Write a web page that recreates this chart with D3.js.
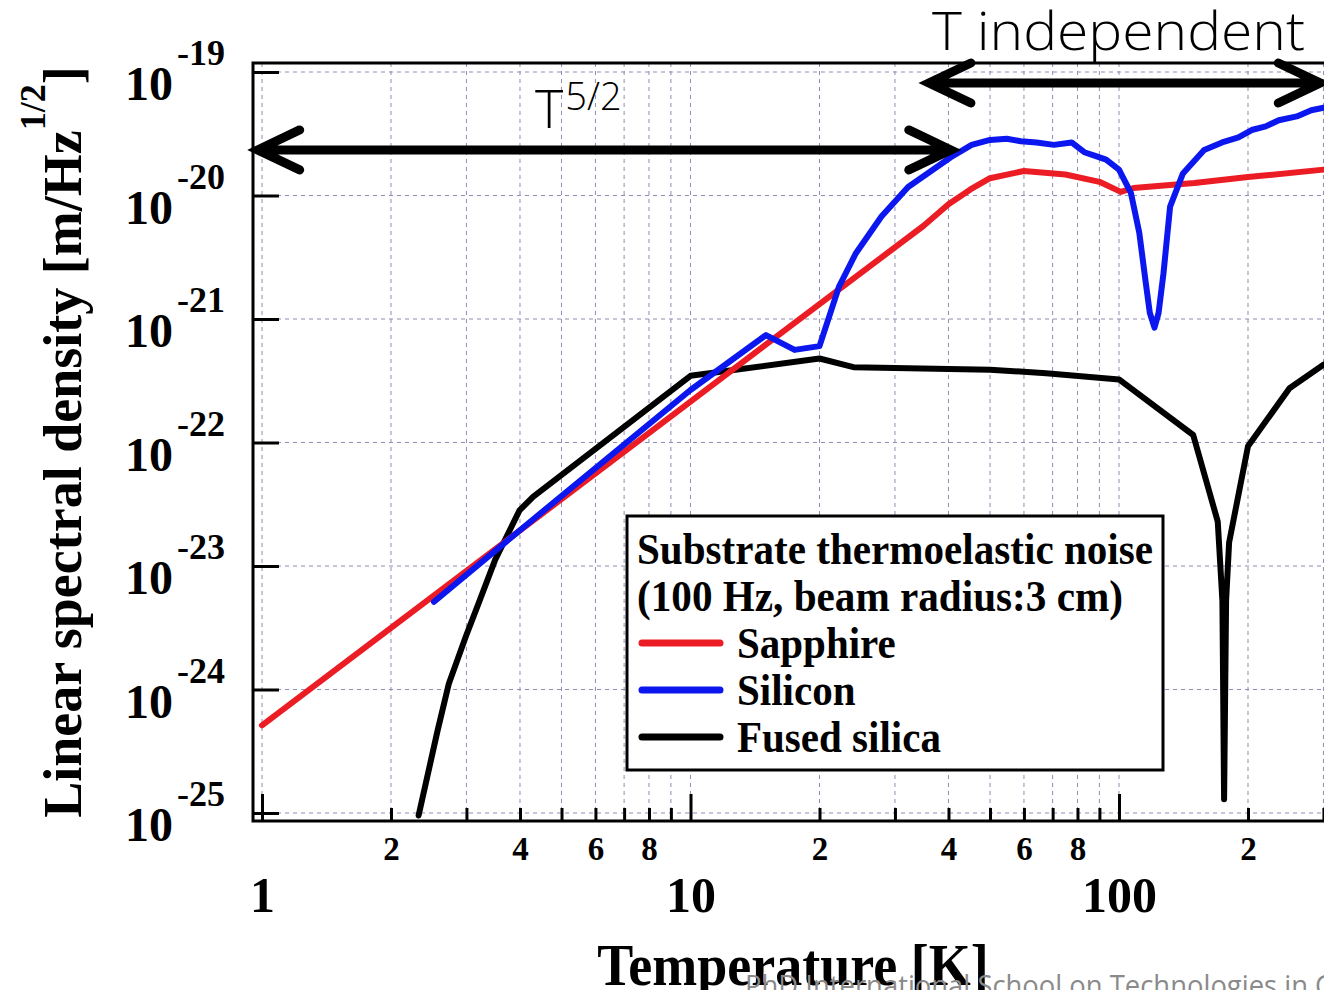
<!DOCTYPE html>
<html>
<head>
<meta charset="utf-8">
<script src="https://cdn.jsdelivr.net/npm/d3@7"></script>
<style>
  body { margin: 0; background: #fff; }
  svg { display: block; }
  .serif { font-family: "Liberation Serif", "Times New Roman", serif; font-weight: bold; }
  .sans { font-family: "Open Sans", "Noto Sans", sans-serif; }
</style>
</head>
<body>
<div id="container"></div>
<script>
/* CONSTANTS AND GLOBALS */
const width = 1324,
  height = 990;

// series (T in K, amplitude in m/Hz^1/2)
const sapphireT = [1, 10, 20, 35, 40, 45, 50, 60, 75, 90, 101, 108, 150, 200, 300];
const sapphireV = [5.13e-25, 2.14e-22, 1.32e-21, 5.69e-21, 8.5e-21, 1.12e-20, 1.38e-20, 1.58e-20,
  1.48e-20, 1.29e-20, 1.07e-20, 1.15e-20, 1.26e-20, 1.41e-20, 1.62e-20];

const siliconT = [2.52, 4, 10, 15, 17.5, 20, 22.2, 24.3, 27.9, 32.2, 40.5, 45.3, 50, 54.7, 59, 64.2,
  70.5, 77.5, 83, 88, 93.3, 100, 106.6, 111.5, 115.5, 118, 121, 123.7, 127, 131.6, 141, 158,
  174, 190, 204, 220, 236, 260, 281, 300];
const siliconV = [5.13e-24, 1.95e-23, 2.66e-22, 7.41e-22, 5.62e-22, 6.03e-22, 1.82e-21, 3.39e-21,
  6.76e-21, 1.17e-20, 2.04e-20, 2.57e-20, 2.82e-20, 2.88e-20, 2.75e-20, 2.69e-20,
  2.57e-20, 2.69e-20, 2.24e-20, 2.09e-20, 1.95e-20, 1.62e-20, 1.05e-20, 5.01e-21,
  1.95e-21, 1.12e-21, 8.51e-22, 1.12e-21, 2.34e-21, 8.13e-21, 1.51e-20, 2.34e-20,
  2.69e-20, 2.95e-20, 3.39e-20, 3.63e-20, 4.07e-20, 4.37e-20, 4.9e-20, 5.13e-20];

const silicaT = [2.32, 2.57, 2.73, 2.99, 3.22, 3.5, 3.99, 4.29, 10, 20, 24, 50, 67.6, 100,
  149, 170, 174.3, 175.9, 177.8, 180.7, 200, 250, 300];
const silicaV = [9.55e-26, 4.68e-25, 1.12e-24, 2.69e-24, 5.25e-24, 1.12e-23, 2.82e-23, 3.63e-23,
  3.47e-22, 4.79e-22, 4.07e-22, 3.89e-22, 3.63e-22, 3.24e-22,
  1.15e-22, 2.29e-23, 5.25e-24, 1.29e-25, 5.25e-24, 1.55e-23, 9.33e-23, 2.75e-22, 4.27e-22];

const seriesNames = ["Sapphire", "Silicon", "Fused silica"];
const seriesColors = ["#ec1c24", "#0b17ee", "#000000"];

// axis ticks
const xMajor = [1, 10, 100];
const xMinor = [2, 3, 4, 5, 6, 7, 8, 9, 20, 30, 40, 50, 60, 70, 80, 90, 200, 300];
const xMinorLabelled = [2, 4, 6, 8, 20, 40, 60, 80, 200];
const yDecades = [1e-25, 1e-24, 1e-23, 1e-22, 1e-21, 1e-20, 1e-19];
const yExponents = ["-25", "-24", "-23", "-22", "-21", "-20", "-19"];

// annotation arrows (temperature span, level)
const arrowFrom = [0.977, 36];
const arrowTo = [40.5, 295];
const arrowLevel = [2.34e-20, 8.15e-20];

let svg, xScale, yScale;

// the original lettering is a bit taller than it is wide
function condense(sel, k) {
  sel.each(function () {
    const el = d3.select(this);
    const w = this.getComputedTextLength();
    el.attr("font-size", +el.attr("font-size") * k)
      .attr("textLength", w)
      .attr("lengthAdjust", "spacingAndGlyphs");
  });
}

function init() {
  xScale = d3.scaleLog().domain([1, 1000]).range([262, 262 + 3 * 428.5]);
  yScale = d3.scaleLog().domain([1e-25, 1e-19]).range([813, 72]);

  const left = xScale(1) - 9,
    top = yScale(1e-19) - 9,
    bottom = yScale(1e-25) + 8,
    right = width + 20;

  svg = d3.select("#container")
    .append("svg")
    .attr("width", width)
    .attr("height", height);

  // + GRID
  const allX = xMajor.concat(xMinor);
  svg.append("g")
    .selectAll("line")
    .data(allX)
    .join("line")
    .attr("x1", d => xScale(d)).attr("x2", d => xScale(d))
    .attr("y1", top).attr("y2", bottom)
    .attr("stroke", "#8d8db5").attr("stroke-width", 1).attr("stroke-dasharray", "4,4");

  svg.append("g")
    .selectAll("line")
    .data(yDecades)
    .join("line")
    .attr("x1", left).attr("x2", right)
    .attr("y1", d => yScale(d)).attr("y2", d => yScale(d))
    .attr("stroke", "#8d8db5").attr("stroke-width", 1).attr("stroke-dasharray", "4,4");

  // + AXES (ticks point inward)
  const minorAxis = d3.axisBottom(xScale)
    .tickValues(xMinor)
    .tickSize(-13)
    .tickPadding(16)
    .tickFormat(d => xMinorLabelled.includes(d) ? String(Math.round(d / Math.pow(10, Math.floor(Math.log10(d) + 1e-9)))) : "");
  const majorAxis = d3.axisBottom(xScale)
    .tickValues(xMajor)
    .tickSize(-27)
    .tickPadding(55)
    .tickFormat(d => String(d));
  const yAxis = d3.axisLeft(yScale)
    .tickValues(yDecades)
    .tickSize(-26)
    .tickFormat("");

  const gMinor = svg.append("g").attr("transform", `translate(0, ${bottom})`).call(minorAxis);
  gMinor.selectAll("text").attr("class", "serif").attr("font-size", 33).attr("fill", "#000");
  const gMajor = svg.append("g").attr("transform", `translate(0, ${bottom})`).call(majorAxis);
  gMajor.selectAll("text").attr("class", "serif").attr("font-size", 50).attr("fill", "#000");
  const gY = svg.append("g").attr("transform", `translate(${left}, 0)`).call(yAxis);

  [gMinor, gMajor, gY].forEach(g => {
    g.select(".domain").remove();
    g.selectAll(".tick line").attr("stroke", "#000").attr("stroke-width", 3);
  });

  // y tick labels 10^n
  const yl = svg.append("g")
    .selectAll("text")
    .data(yDecades)
    .join("text")
    .attr("class", "serif")
    .attr("x", 125)
    .attr("y", d => yScale(d) + 28)
    .attr("font-size", 48);
  yl.append("tspan").text("10");
  yl.append("tspan").attr("dx", 4).attr("dy", -35).attr("font-size", 36).text((d, i) => yExponents[i]);

  // + CURVES
  const line = d3.line().x(d => xScale(d[0])).y(d => yScale(d[1]));
  const seriesData = [
    d3.zip(sapphireT, sapphireV),
    d3.zip(siliconT, siliconV),
    d3.zip(silicaT, silicaV)
  ];
  svg.append("clipPath").attr("id", "plotclip")
    .append("rect").attr("x", left).attr("y", top).attr("width", right - left).attr("height", bottom - top);
  // draw black first, then red, then blue on top
  [2, 0, 1].forEach(i => {
    svg.append("path")
      .datum(seriesData[i])
      .attr("clip-path", "url(#plotclip)")
      .attr("fill", "none")
      .attr("stroke", seriesColors[i])
      .attr("stroke-width", 6)
      .attr("stroke-linejoin", "round")
      .attr("stroke-linecap", "round")
      .attr("d", line);
  });

  // + FRAME
  svg.append("rect")
    .attr("x", left).attr("y", top)
    .attr("width", right - left).attr("height", bottom - top)
    .attr("fill", "none").attr("stroke", "#000").attr("stroke-width", 3);

  // + ARROWS
  arrowFrom.forEach((f, i) => {
    const x1 = xScale(f), x2 = xScale(arrowTo[i]), yy = yScale(arrowLevel[i]);
    const p = d3.path();
    p.moveTo(x1, yy); p.lineTo(x2, yy);
    p.moveTo(x1 + 42, yy - 20); p.lineTo(x1, yy); p.lineTo(x1 + 42, yy + 20);
    p.moveTo(x2 - 42, yy - 20); p.lineTo(x2, yy); p.lineTo(x2 - 42, yy + 20);
    svg.append("path")
      .attr("d", p.toString())
      .attr("fill", "none")
      .attr("stroke", "#000")
      .attr("stroke-width", 9)
      .attr("stroke-linecap", "round")
      .attr("stroke-linejoin", "miter");
  });

  svg.append("text")
    .attr("class", "sans")
    .attr("x", 932).attr("y", 50)
    .attr("font-size", 54).attr("font-weight", 300)
    .attr("textLength", 373).attr("lengthAdjust", "spacingAndGlyphs")
    .text("T independent");

  const t52 = svg.append("text")
    .attr("class", "sans")
    .attr("x", 535).attr("y", 128)
    .attr("font-size", 54).attr("font-weight", 300);
  t52.append("tspan").text("T");
  t52.append("tspan").attr("dx", 2).attr("dy", -18).attr("font-size", 38).text("5/2");

  // + LEGEND
  const lg = svg.append("g").attr("transform", "translate(627, 516)");
  lg.append("rect")
    .attr("width", 536).attr("height", 254)
    .attr("fill", "#fff").attr("stroke", "#000").attr("stroke-width", 3);
  lg.append("text").attr("class", "serif").attr("x", 10).attr("y", 48).attr("font-size", 45)
    .attr("textLength", 516).attr("lengthAdjust", "spacingAndGlyphs")
    .text("Substrate thermoelastic noise");
  lg.append("text").attr("class", "serif").attr("x", 10).attr("y", 95).attr("font-size", 45)
    .attr("textLength", 486).attr("lengthAdjust", "spacingAndGlyphs")
    .text("(100 Hz, beam radius:3 cm)");
  const items = lg.selectAll("g.item")
    .data(seriesNames)
    .join("g")
    .attr("class", "item")
    .attr("transform", (d, i) => `translate(0, ${127 + i * 47})`);
  items.append("line")
    .attr("x1", 15).attr("x2", 93)
    .attr("stroke", (d, i) => seriesColors[i])
    .attr("stroke-width", 7).attr("stroke-linecap", "round");
  const itemText = items.append("text").attr("class", "serif")
    .attr("x", 110).attr("y", 15).attr("font-size", 41)
    .text(d => d);
  condense(itemText, 1.1);

  // + AXIS TITLES
  const xt = svg.append("text").attr("class", "serif")
    .attr("x", 793).attr("y", 985)
    .attr("text-anchor", "middle")
    .attr("font-size", 54)
    .text("Temperature [K]");
  condense(xt, 1.1);

  const yt = svg.append("text").attr("class", "serif")
    .attr("transform", "translate(81, 442) rotate(-90)")
    .attr("text-anchor", "middle")
    .attr("font-size", 54);
  yt.append("tspan").text("Linear spectral density [m/Hz");
  yt.append("tspan").attr("dy", -36).attr("font-size", 36).text("1/2");
  yt.append("tspan").attr("dy", 36).text("]");

  // footer of the slide
  svg.append("text").attr("class", "sans")
    .attr("x", 745).attr("y", 996)
    .attr("font-size", 30)
    .attr("fill", "#8a8a8a")
    .attr("textLength", 590).attr("lengthAdjust", "spacingAndGlyphs")
    .text("PhD International School on Technologies in G");
}

init();
</script>
</body>
</html>
